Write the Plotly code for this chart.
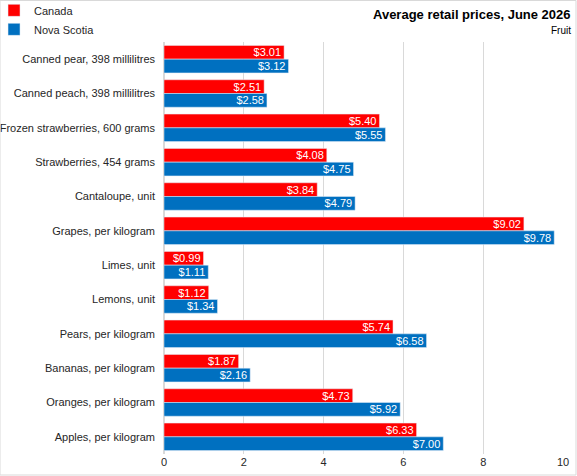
import plotly.graph_objects as go

categories = ["Canned pear, 398 millilitres", "Canned peach, 398 millilitres",
              "Frozen strawberries, 600 grams", "Strawberries, 454 grams",
              "Cantaloupe, unit", "Grapes, per kilogram", "Limes, unit",
              "Lemons, unit", "Pears, per kilogram", "Bananas, per kilogram",
              "Oranges, per kilogram", "Apples, per kilogram"]
canada = [3.01, 2.51, 5.40, 4.08, 3.84, 9.02, 0.99, 1.12, 5.74, 1.87, 4.73, 6.33]
nova_scotia = [3.12, 2.58, 5.55, 4.75, 4.79, 9.78, 1.11, 1.34, 6.58, 2.16, 5.92, 7.00]
x_ticks = [0, 2, 4, 6, 8, 10]

FONT = "Liberation Sans, Arial, sans-serif"

fig = go.Figure()
fig.add_trace(go.Bar(
    y=categories, x=canada, name="Canada", orientation="h",
    marker=dict(color="#FF0000"),
    text=[f"${v:.2f}" for v in canada], textposition="inside",
    insidetextanchor="end", textfont=dict(color="white", size=11, family=FONT),
))
fig.add_trace(go.Bar(
    y=categories, x=nova_scotia, name="Nova Scotia", orientation="h",
    marker=dict(color="#0070C0"),
    text=[f"${v:.2f}" for v in nova_scotia], textposition="inside",
    insidetextanchor="end", textfont=dict(color="white", size=11, family=FONT),
))

fig.update_layout(
    width=577, height=476,
    margin=dict(l=164, r=14, t=42, b=22, autoexpand=False),
    paper_bgcolor="white", plot_bgcolor="white",
    barmode="group", bargap=0.2, bargroupgap=0,
    font=dict(family=FONT, size=11, color="#262626"),
    uniformtext=dict(mode="show", minsize=8),
    legend=dict(x=-0.426, y=1.112, xanchor="left", yanchor="top",
                orientation="v", traceorder="normal",
                font=dict(size=11, family=FONT, color="#262626"),
                bgcolor="rgba(0,0,0,0)", itemwidth=30),
    xaxis=dict(range=[0, 10], tickvals=x_ticks, showgrid=True,
               gridcolor="#D9D9D9", gridwidth=1, zeroline=True,
               zerolinecolor="#D9D9D9", ticks="", showline=False,
               tickfont=dict(size=11, family=FONT), automargin=False),
    yaxis=dict(autorange="reversed", showgrid=False, ticks="",
               tickfont=dict(size=11, family=FONT), ticklabelstandoff=8,
               automargin=False),
    showlegend=True,
)
fig.add_annotation(text="<b>Average retail prices, June 2026</b>", xref="paper", yref="paper",
                   x=1.025, y=1 + (42 - 15) / 412, xanchor="right", yanchor="middle", showarrow=False,
                   font=dict(size=13, family=FONT, color="black"))
fig.add_annotation(text="Fruit", xref="paper", yref="paper",
                   x=1.025, y=1 + (42 - 30) / 412, xanchor="right", yanchor="middle", showarrow=False,
                   font=dict(size=10, family=FONT, color="black"))
fig.add_shape(type="rect", xref="paper", yref="paper", x0=-0.411, x1=1.0326, y0=-0.051, y1=1.1007,
              line=dict(color="#D9D9D9", width=1))

fig.write_html("out.html", config={"displayModeBar": False},
               post_script="document.body.style.margin='0';document.body.style.overflow='hidden';")
